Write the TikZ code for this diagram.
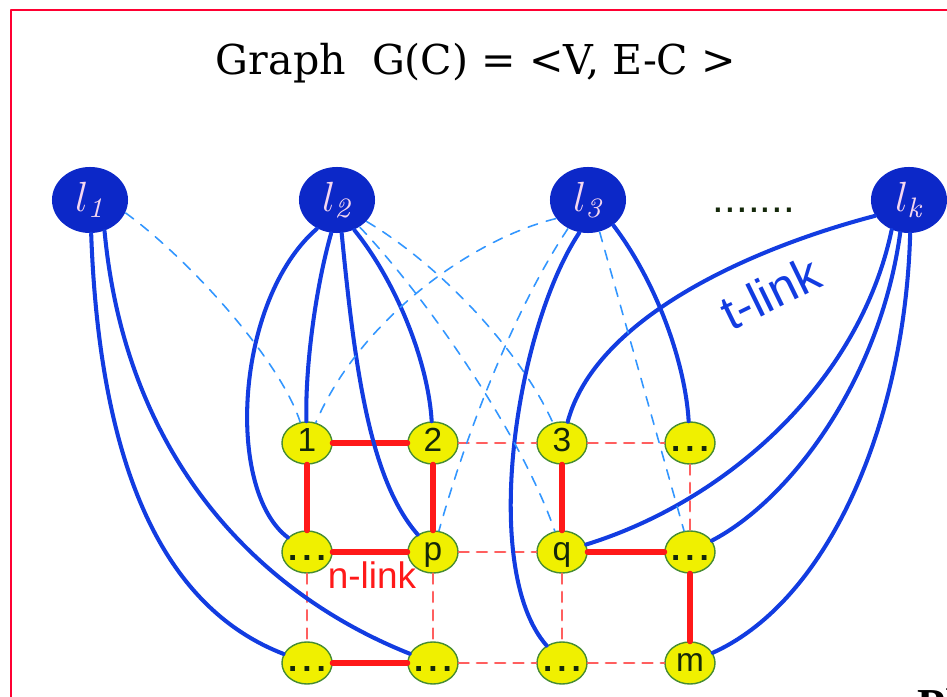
\documentclass[tikz,border=0pt]{standalone}
\usepackage{fontspec}
\usepackage{tikz}
\usetikzlibrary{shapes.geometric}
\newfontfamily\titlefont{DejaVu Serif}
\newfontfamily\helv{Liberation Sans}
\newfontfamily\timesbf{Liberation Serif}

\definecolor{tnodeblue}{RGB}{12,40,200}
\definecolor{tlinkblue}{RGB}{18,60,225}
\definecolor{tweakblue}{RGB}{50,150,255}
\definecolor{nlinkred}{RGB}{255,25,25}
\definecolor{nweakred}{RGB}{255,95,95}
\definecolor{pixyellow}{RGB}{240,240,0}
\definecolor{pixedge}{RGB}{70,140,50}
\definecolor{pixtext}{RGB}{20,40,10}
\definecolor{labelpink}{RGB}{245,215,240}
\definecolor{framered}{RGB}{255,0,50}

\newcommand{\pixdots}{\makebox[0pt]{\textbf{.\kern1.4pt.\kern1.4pt.}}}

\begin{document}
\begin{tikzpicture}[x=0.01cm, y=-0.01cm, line join=round, line cap=round,
	terminal/.style={ellipse, fill=tnodeblue, minimum width=0.76cm, minimum height=0.66cm, inner sep=0pt, text=labelpink, font=\fontsize{12}{13}\selectfont},
	pixel/.style={ellipse, draw=pixedge, line width=0.4pt, fill=pixyellow, minimum width=0.5cm, minimum height=0.42cm, inner sep=0pt, text height=6.5pt, text depth=1.5pt, text=pixtext, font=\helv\fontsize{9.5}{10}\selectfont},
	tlink/.style={draw=tlinkblue, line width=1.15pt},
	tweak/.style={draw=tweakblue, line width=0.45pt, dash pattern=on 2.8pt off 2.6pt},
	nlink/.style={draw=nlinkred, line width=1.7pt},
	nweak/.style={draw=nweakred, line width=0.8pt, dash pattern=on 2.8pt off 2.4pt}]
	
	% --- 1. 画布与边框 ---
	\useasboundingbox (0,0) rectangle (947,697);
	\draw[framered, line width=0.4pt] (11,10) rectangle (990,740);
	
	% 标题
	\node[font=\titlefont\fontsize{11.7}{12}\selectfont, anchor=base] (title) at (476,74) {Graph\ \ G(C) = <V, E-C >};
	
	% --- 2. 终端节点 l ---
	\node[terminal] (l1) at (90,200) {$l_{\mathit{1}}$};
	\node[terminal] (l2) at (337,200) {$l_{\mathit{2}}$};
	\node[terminal] (l3) at (588,200) {$l_{\mathit{3}}$};
	\node[terminal] (lk) at (909,200) {$l_{\mathit{k}}$};
	\node[font=\helv\fontsize{12}{12}\selectfont, text=pixtext, anchor=base] (dots) at (754,213) {.......};
	
	% --- 3. 像素节点 (三行四列) ---
	\node[pixel] (a1) at (307,443) {1};
	\node[pixel] (a2) at (433,443) {2};
	\node[pixel] (a3) at (562,443) {3};
	\node[pixel] (a4) at (690,443) {\pixdots};
	\node[pixel] (b1) at (307,552) {\pixdots};
	\node[pixel] (b2) at (433,552) {p};
	\node[pixel] (b3) at (562,552) {q};
	\node[pixel] (b4) at (690,552) {\pixdots};
	\node[pixel] (c1) at (307,663) {\pixdots};
	\node[pixel] (c2) at (433,663) {\pixdots};
	\node[pixel] (c3) at (562,663) {\pixdots};
	\node[pixel] (c4) at (690,663) {m};
	
	% --- 4. n-link 邻接边 ---
	\draw[nlink] (a1) -- (a2);
	\draw[nlink] (a1) -- (b1);
	\draw[nlink] (a2) -- (b2);
	\draw[nlink] (b1) -- (b2);
	\draw[nlink] (c1) -- (c2);
	\draw[nlink] (a3) -- (b3);
	\draw[nlink] (b3) -- (b4);
	\draw[nlink] (b4) -- (c4);
	% 被切断的边
	\draw[nweak] (a2) -- (a3);
	\draw[nweak] (a3) -- (a4);
	\draw[nweak] (a4) -- (b4);
	\draw[nweak] (b2) -- (b3);
	\draw[nweak] (b1) -- (c1);
	\draw[nweak] (b2) -- (c2);
	\draw[nweak] (b3) -- (c3);
	\draw[nweak] (c2) -- (c3);
	\draw[nweak] (c3) -- (c4);
	
	% --- 5. t-link 终端边 ---
	\draw[tlink] (l1.-88) .. controls (100,480) and (170,610) .. (c1);
	\draw[tlink] (l1.-65) .. controls (125,450) and (250,590) .. (c2);
	\draw[tlink] (l2.-125) .. controls (235,300) and (225,490) .. (b1);
	\draw[tlink] (l2.-100) .. controls (315,290) and (305,370) .. (a1);
	\draw[tlink] (l2.-82) .. controls (355,370) and (370,480) .. (b2);
	\draw[tlink] (l2.-60) .. controls (395,280) and (428,360) .. (a2);
	\draw[tlink] (l3.-105) .. controls (515,330) and (480,570) .. (c3);
	\draw[tlink] (l3.-45) .. controls (655,280) and (685,360) .. (a4);
	\draw[tlink] (lk.-155) .. controls (745,250) and (595,320) .. (a3);
	\draw[tlink] (lk.-120) .. controls (860,380) and (730,500) .. (b3);
	\draw[tlink] (lk.-105) .. controls (880,380) and (790,500) .. (b4);
	\draw[tlink] (lk.-88) .. controls (905,420) and (830,600) .. (c4);
	% 被切断的 t-link (虚线)
	\draw[tweak] (l1.-20) .. controls (190,260) and (280,360) .. (a1);
	\draw[tweak] (l2.-36) .. controls (440,265) and (520,350) .. (a3);
	\draw[tweak] (l2.-50) .. controls (420,290) and (520,430) .. (b3);
	\draw[tweak] (l3.-150) .. controls (470,240) and (360,320) .. (a1);
	\draw[tweak] (l3.-125) .. controls (520,300) and (470,420) .. (b2);
	\draw[tweak] (l3.-70) -- (b4);
	
	% --- 6. 标注 ---
	\node[font=\helv\fontsize{10.5}{11}\selectfont, text=nlinkred] (nlab) at (372,575) {n-link};
	\node[font=\helv\fontsize{14}{14}\selectfont, text=tlinkblue, rotate=26] (tlab) at (770,293) {t-link};
	\node[font=\timesbf\bfseries\fontsize{13}{13}\selectfont, anchor=north west, inner sep=0pt] (ph) at (917,688) {Ph};
	
\end{tikzpicture}
\end{document}
